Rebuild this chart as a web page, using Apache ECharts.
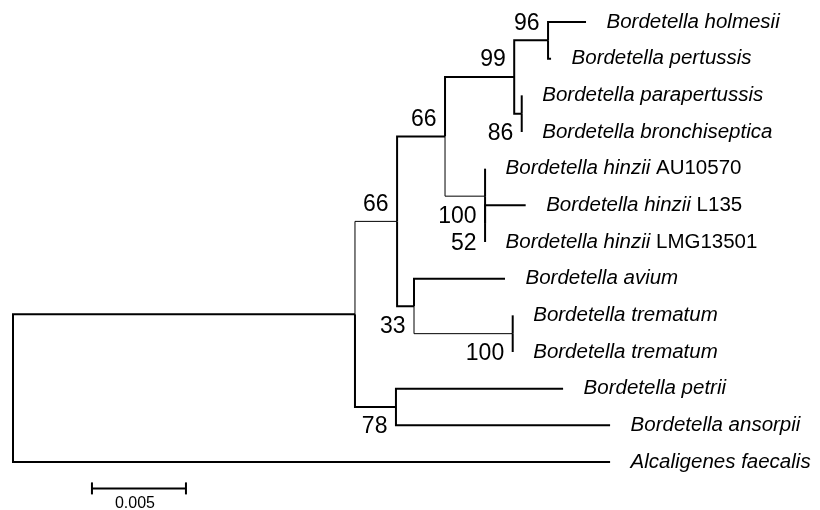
<!DOCTYPE html>
<html>
<head>
<meta charset="utf-8">
<script src="https://cdn.jsdelivr.net/npm/echarts@6/dist/echarts.min.js"></script>
<style>
  html, body { margin: 0; padding: 0; background: #fff; }
  #chart { width: 820px; height: 510px; }
</style>
</head>
<body>
<div id="chart"></div>
<script>
// leaves, top to bottom
const leafNames = [
  'Bordetella holmesii', 'Bordetella pertussis', 'Bordetella parapertussis',
  'Bordetella bronchiseptica', 'Bordetella hinzii', 'Bordetella hinzii',
  'Bordetella hinzii', 'Bordetella avium', 'Bordetella trematum',
  'Bordetella trematum', 'Bordetella petrii', 'Bordetella ansorpii',
  'Alcaligenes faecalis'
];
const leafStrains = ['', '', '', '', 'AU10570', 'L135', 'LMG13501', '', '', '', '', '', ''];
const leafParents = ['j96', 'j96', 'k86', 'k86', 'g100', 'h52', 'h52', 'd33', 'e100', 'e100', 'b78', 'b78', 'r'];
const leafBranches = [0.00202, 0.00016, 0, 0, 0, 0.00216, 0, 0.00484, 0, 0, 0.00889, 0.01139, 0.03176];

// internal nodes
const nodeIds = ['r', 'a', 'b78', 'c66', 'd33', 'e100', 'f66', 'g100', 'h52', 'i99', 'j96', 'k86'];
const nodeParents = [null, 'r', 'a', 'a', 'c66', 'd33', 'c66', 'f66', 'g100', 'f66', 'i99', 'i99'];
const nodeBranches = [0, 0.01819, 0.00218, 0.00224, 0.0009, 0.00525, 0.00255, 0.00213, 0, 0.00368, 0.0018, 0.0004];
const bootstrap = [null, null, 78, 66, 33, 100, 66, 100, 52, 99, 96, 86];

const scaleBarLength = 0.005;

// build tree positions
const nodes = {};
nodeIds.forEach((id, i) => {
  nodes[id] = { id, parent: nodeParents[i], len: nodeBranches[i], boot: bootstrap[i], children: [] };
});
leafNames.forEach((name, i) => {
  const id = 'leaf' + i;
  nodes[id] = { id, parent: leafParents[i], len: leafBranches[i], leaf: i, children: [] };
});
Object.values(nodes).forEach(n => { if (n.parent) nodes[n.parent].children.push(n.id); });

function setX(id, x0) {
  const n = nodes[id];
  n.x = x0 + n.len;
  n.children.forEach(c => setX(c, n.x));
}
function setY(id) {
  const n = nodes[id];
  if (n.leaf !== undefined) { n.y = n.leaf; return n.y; }
  const ys = n.children.map(setY);
  n.y = (Math.min(...ys) + Math.max(...ys)) / 2;
  return n.y;
}
setX('r', 0);
setY('r');

// branches drawn thin in the original
const thinBranches = ['c66', 'g100', 'e100'];
const labelAbove = ['c66', 'f66', 'i99', 'j96'];

const branchData = Object.values(nodes).filter(n => n.parent).map(n => {
  const p = nodes[n.parent];
  return {
    coords: [[p.x, p.y], [p.x, n.y], [n.x, n.y]],
    lineStyle: { width: thinBranches.includes(n.id) ? 1 : 2 }
  };
});

const leafData = leafNames.map((name, i) => {
  const n = nodes['leaf' + i];
  return { value: [n.x, n.y], name: name, strain: leafStrains[i] };
});

const bootData = nodeIds.map(id => nodes[id]).filter(n => n.boot != null).map(n => ({
  value: [n.x, n.y],
  boot: n.boot,
  label: { offset: labelAbove.includes(n.id) ? [0, -17] : [0, 20] }
}));

const chart = echarts.init(document.getElementById('chart'));
chart.setOption({
  animation: false,
  backgroundColor: '#fff',
  textStyle: { fontFamily: 'Liberation Sans, Arial, sans-serif' },
  grid: { left: 13, right: 55, top: 22, bottom: 48, containLabel: false },
  xAxis: { type: 'value', min: 0, max: 0.04, show: false },
  yAxis: { type: 'value', min: 0, max: 12, inverse: true, show: false },
  series: [
    {
      type: 'lines',
      coordinateSystem: 'cartesian2d',
      polyline: true,
      silent: true,
      lineStyle: { color: '#000', opacity: 1, width: 2 },
      data: branchData
    },
    {
      type: 'scatter',
      silent: true,
      symbolSize: 1,
      itemStyle: { color: 'transparent', opacity: 1 },
      label: {
        show: true,
        position: 'right',
        distance: 20,
        formatter: p => '{i|' + p.data.name + '}' + (p.data.strain ? '{n| ' + p.data.strain + '}' : ''),
        rich: {
          i: { fontSize: 20.5, fontStyle: 'italic', color: '#000', fontFamily: 'Liberation Sans' },
          n: { fontSize: 20.5, color: '#000', fontFamily: 'Liberation Sans' }
        }
      },
      data: leafData
    },
    {
      type: 'scatter',
      silent: true,
      symbolSize: 1,
      itemStyle: { color: 'transparent', opacity: 1 },
      label: {
        show: true,
        position: 'left',
        distance: 8,
        fontSize: 23,
        color: '#000',
        fontFamily: 'Liberation Sans',
        formatter: p => String(p.data.boot)
      },
      data: bootData
    },
    {
      type: 'custom',
      silent: true,
      data: [[0.0042, 12.72]],
      renderItem: (params, api) => {
        const x0 = api.value(0), y = api.value(1);
        const a = api.coord([x0, y]);
        const b = api.coord([x0 + scaleBarLength, y]);
        const st = { stroke: '#000', lineWidth: 2 };
        return {
          type: 'group',
          children: [
            { type: 'line', shape: { x1: a[0], y1: a[1], x2: b[0], y2: b[1] }, style: st },
            { type: 'line', shape: { x1: a[0], y1: a[1] - 6, x2: a[0], y2: a[1] + 6 }, style: st },
            { type: 'line', shape: { x1: b[0], y1: b[1] - 6, x2: b[0], y2: b[1] + 6 }, style: st },
            {
              type: 'text',
              style: {
                x: (a[0] + b[0]) / 2 - 4, y: a[1] + 15,
                text: String(scaleBarLength),
                fill: '#000', fontSize: 16, fontFamily: 'Liberation Sans',
                align: 'center', verticalAlign: 'middle'
              }
            }
          ]
        };
      }
    }
  ]
});
</script>
</body>
</html>
